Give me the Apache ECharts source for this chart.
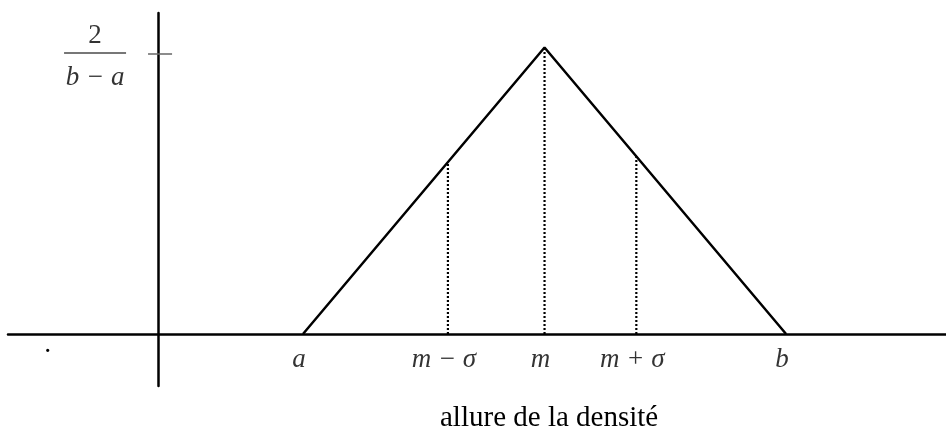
<!DOCTYPE html>
<html>
<head>
<meta charset="utf-8">
<script src="https://cdn.jsdelivr.net/npm/echarts@6/dist/echarts.min.js"></script>
<style>html,body{margin:0;padding:0;background:#fff}#c{width:946px;height:430px}</style>
</head>
<body>
<div id="c"></div>
<script>
// x positions (origin = vertical axis)
var triangleX = [3, 8, 13];          // a, m, b
var triangleY = [0, 0.2, 0];         // density: peak 2/(b-a)
var markX = [6, 8, 9.9];             // m - sigma, m, m + sigma
var markY = [0.12, 0.2, 0.124];      // density at those points
var labelX = [3, 6, 8, 9.9, 13];
var labelText = ['a', 'm \u2212 \u03c3', 'm', 'm + \u03c3', 'b'];
var yTickValue = 0.1955;
var yTickText = ['2', 'b \u2212 a'];
var titleText = 'allure de la densit\u00e9';

var serif = '"Liberation Serif", "DejaVu Serif", serif';
var chart = echarts.init(document.getElementById('c'));

var series = [];
series.push({
  type: 'line', symbol: 'none', silent: true,
  data: triangleX.map(function (x, i) { return [x, triangleY[i]]; }),
  lineStyle: { color: '#000', width: 2.5 }, z: 5
});
markX.forEach(function (x, i) {
  series.push({
    type: 'line', symbol: 'none', silent: true,
    data: [[x, 0], [x, markY[i]]],
    lineStyle: { color: '#000', width: 2.2, type: [2, 2] }, z: 4
  });
});
// small tick on the vertical axis
series.push({
  type: 'line', symbol: 'none', silent: true,
  data: [[-0.207, yTickValue], [0.29, yTickValue]],
  lineStyle: { color: '#666', width: 1.5 }, z: 3
});
// x labels
series.push({
  type: 'scatter', symbolSize: 0, silent: true,
  data: labelX.map(function (x, i) { return { value: [x, 0], name: labelText[i] }; }),
  label: {
    show: true, position: 'bottom', distance: 12, offset: [-4, 0],
    formatter: function (p) { return p.name; },
    fontFamily: serif, fontStyle: 'italic', fontSize: 27, color: '#000'
  }
});
// y label as a fraction
series.push({
  type: 'scatter', symbolSize: 0, silent: true,
  data: [[0, yTickValue]],
  label: {
    show: true, position: 'left', distance: 32, offset: [0, 7],
    formatter: '{n|' + yTickText[0] + '}\n{bar|}\n{d|' + yTickText[1] + '}',
    rich: {
      n: { fontFamily: serif, fontSize: 27, lineHeight: 32, width: 62, align: 'center', color: '#000' },
      bar: { width: 62, height: 2, lineHeight: 2, backgroundColor: '#555' },
      d: { fontFamily: serif, fontStyle: 'italic', fontSize: 27, lineHeight: 48, width: 62, align: 'center', color: '#000' }
    }
  }
});

chart.setOption({
  animation: false,
  backgroundColor: '#fff',
  title: {
    text: titleText, left: 440, top: 404, padding: 0,
    textStyle: { fontFamily: serif, fontWeight: 'normal', fontSize: 29, color: '#000' }
  },
  graphic: [{
    type: 'text', left: 45, top: 331,
    style: { text: '.', font: 'italic 27px ' + serif, fill: '#000' }
  }],
  grid: { left: 8, right: 0, top: 13, bottom: 44 },
  xAxis: {
    type: 'value', min: -3.106, max: 16.31,
    axisLine: { onZero: true, lineStyle: { color: '#000', width: 2.5 } },
    axisTick: { show: false }, axisLabel: { show: false }, splitLine: { show: false }
  },
  yAxis: {
    type: 'value', min: -0.0363, max: 0.2241,
    axisLine: { onZero: true, lineStyle: { color: '#000', width: 2.5 } },
    axisTick: { show: false }, axisLabel: { show: false }, splitLine: { show: false }
  },
  series: series
});
</script>
</body>
</html>
